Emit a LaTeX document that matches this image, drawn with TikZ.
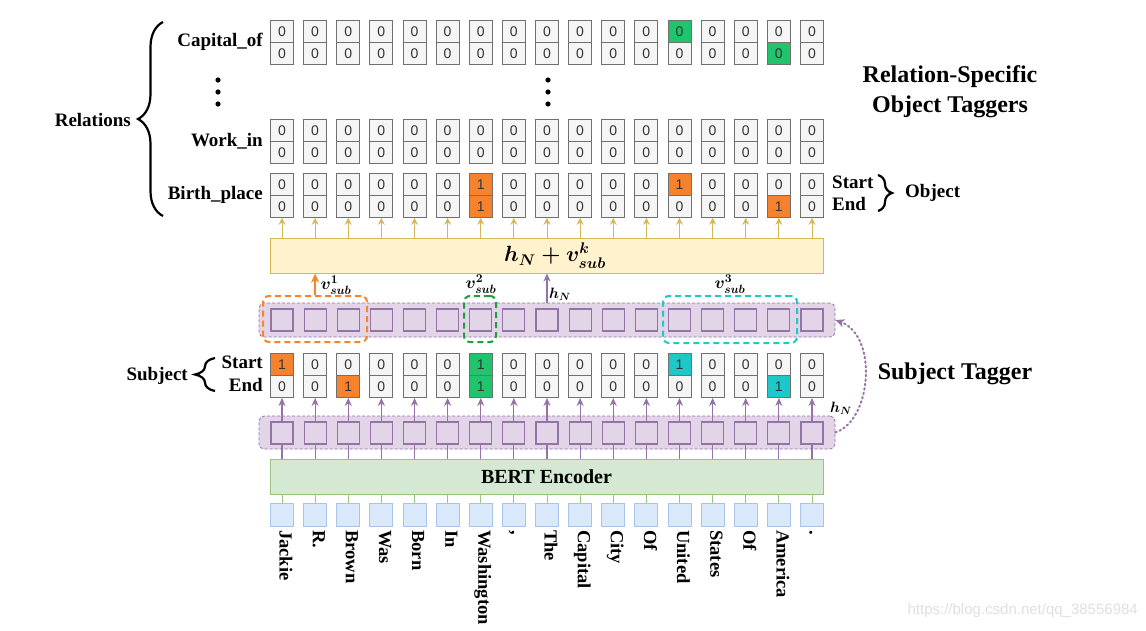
\RequirePackage{fix-cm}
\documentclass[tikz,border=0pt]{standalone}
\usepackage{amsmath}
\usepackage{fontspec}
\setmainfont{Liberation Serif}
\newfontfamily\digfont{Liberation Sans}
\usetikzlibrary{arrows.meta,decorations.pathreplacing}
\definecolor{cellfill}{HTML}{F5F5F5}
\definecolor{cellbd}{HTML}{707070}
\definecolor{digc}{HTML}{333333}
\definecolor{ocell}{HTML}{F6822E}
\definecolor{gcell}{HTML}{20C46C}
\definecolor{ccell}{HTML}{1CC8C8}
\definecolor{purpF}{HTML}{E1D5E7}
\definecolor{purpS}{HTML}{9673A6}
\definecolor{yelF}{HTML}{FFF2CC}
\definecolor{yelS}{HTML}{D6B656}
\definecolor{bertF}{HTML}{D5E8D4}
\definecolor{bertS}{HTML}{97C47E}
\definecolor{bluF}{HTML}{DAE8FC}
\definecolor{bluS}{HTML}{A9C4EB}
\definecolor{odash}{HTML}{F8832A}
\definecolor{gdash}{HTML}{1E9E3E}
\definecolor{cdash}{HTML}{22C7C7}
\newcommand\setcell[4]{\expandafter\def\csname cf-#1-#2\endcsname{#3}\expandafter\def\csname cd-#1-#2\endcsname{#4}}
\newcommand\getcell[2]{\ifcsname cf-#1-#2\endcsname\edef\cfill{\csname cf-#1-#2\endcsname}\edef\cdig{\csname cd-#1-#2\endcsname}\else\def\cfill{cellfill}\def\cdig{0}\fi}
\setcell{capt}{12}{gcell}{0}
\setcell{capb}{15}{gcell}{0}
\setcell{birt}{6}{ocell}{1}
\setcell{birb}{6}{ocell}{1}
\setcell{birt}{12}{ocell}{1}
\setcell{birb}{15}{ocell}{1}
\setcell{subt}{0}{ocell}{1}
\setcell{subb}{2}{ocell}{1}
\setcell{subt}{6}{gcell}{1}
\setcell{subb}{6}{gcell}{1}
\setcell{subt}{12}{ccell}{1}
\setcell{subb}{15}{ccell}{1}
\newcommand\tagrow[2]{\foreach \i in {0,...,16}{%
  \pgfmathsetmacro\cx{282+33.125*\i}%
  \getcell{#1t}{\i}%
  \node[cell,fill=\cfill,anchor=north] (#1t\i) at (\cx,#2) {\cdig};%
  \getcell{#1b}{\i}%
  \node[cell,fill=\cfill,anchor=north] (#1b\i) at (\cx,#2+22) {\cdig};%
}}
\begin{document}
\begin{tikzpicture}[x=1pt,y=-1pt,
  cell/.style={draw=cellbd,minimum width=23pt,minimum height=22pt,inner sep=0pt,line width=0.9pt,text=digc,font=\digfont\fontsize{14}{16}\selectfont},
  prow/.style={draw=purpS,fill=purpF,rounded corners=5pt,line width=0.8pt,dash pattern=on 3pt off 2pt,minimum width=576pt,minimum height=34pt,inner sep=0pt},
  hsq/.style={draw=purpS,fill=purpF,minimum size=22pt,inner sep=0pt,line width=1.1pt},
  grp/.style={rounded corners=6pt,line width=2pt,dash pattern=on 6pt off 4pt,minimum height=46pt,inner sep=0pt},
  lbl/.style={font=\fontsize{19}{22}\selectfont\bfseries,inner sep=0pt},
  big/.style={font=\fontsize{24}{30}\selectfont\bfseries,inner sep=0pt,align=center},
  wrd/.style={font=\fontsize{18.5}{20}\selectfont\bfseries,inner sep=0pt,rotate=-90,anchor=mid west},
  parr/.style={draw=purpS,line width=1.2pt,-{Stealth[length=8pt,width=7pt,inset=2.5pt]}},
  pline/.style={draw=purpS,line width=1.2pt},
  garr/.style={draw=yelS,line width=1pt,-{Stealth[length=7pt,width=7pt,inset=2.5pt]}},
  brc/.style={draw=black,line width=2.2pt,decorate}]
\useasboundingbox (0,0) rectangle (1146,630);
\fill[white] (0,0) rectangle (1146,630);
% object taggers
\tagrow{cap}{20}
\tagrow{wor}{119}
\tagrow{bir}{173}
\tagrow{sub}{353}
\foreach \y in {80,92,104}{\fill (218,\y) circle (2.6pt); \fill (548,\y) circle (2.6pt);}
% labels
\node[lbl,anchor=east] (lcap) at (263,42) {Capital\_of};
\node[lbl,anchor=east] (lwor) at (263,141) {Work\_in};
\node[lbl,anchor=east] (lbir) at (263,195) {Birth\_place};
\node[lbl,anchor=east] (lrel) at (131,120) {Relations};
\draw[brc,decoration={brace,amplitude=25pt}] (163,216) -- (163,22);
\node[lbl,anchor=west] (ost) at (832,182) {Start};
\node[lbl,anchor=west] (oen) at (832,204) {End};
\draw[brc,decoration={brace,amplitude=14pt}] (878,175) -- (878,211);
\node[lbl,anchor=west] (lobj) at (905,193) {Object};
\node[big] (title) at (950,92) {Relation-Specific\\Object Taggers};
\node[lbl,anchor=east] (sst) at (263,362) {Start};
\node[lbl,anchor=east] (sen) at (263,385) {End};
\draw[brc,decoration={brace,amplitude=20pt}] (215,391) -- (215,358);
\node[lbl,anchor=east] (lsub) at (188,376) {Subject};
\node[big] (stag) at (955,374) {Subject Tagger};
% yellow box
\node[draw=yelS,fill=yelF,line width=1pt,minimum width=553pt,minimum height=35pt,inner sep=0pt] (yel) at (546.5,255.5) {};
\node[inner sep=0pt] (ftext) at (555,256) {\fontsize{22}{26}\selectfont$\boldsymbol{h_N+v^k_{sub}}$};
% hidden rows
\node[prow] (urow) at (547,320) {};
\node[prow,minimum height=33pt] (lrow) at (547,432.5) {};
\foreach \i in {0,...,16}{%
  \pgfmathsetmacro\cx{282+33.125*\i}%
  \node[hsq] (hu\i) at (\cx,320) {};
  \node[hsq] (hl\i) at (\cx,433) {};
}
% groups
\node[grp,draw=odash,minimum width=104pt] (g1) at (315,319) {};
\node[grp,draw=gdash,minimum width=32pt] (g2) at (480,319) {};
\node[grp,draw=cdash,minimum width=134pt,minimum height=47pt] (g3) at (730,319.5) {};
\node[inner sep=0pt] (v1) at (336,285) {\fontsize{17}{19}\selectfont$\boldsymbol{v^1_{sub}}$};
\node[inner sep=0pt] (v2) at (481,284) {\fontsize{17}{19}\selectfont$\boldsymbol{v^2_{sub}}$};
\node[inner sep=0pt] (v3) at (730,284) {\fontsize{17}{19}\selectfont$\boldsymbol{v^3_{sub}}$};
\node[inner sep=0pt] (hn1) at (560,294) {\fontsize{15}{17}\selectfont$\boldsymbol{h_N}$};
\node[inner sep=0pt] (hn2) at (841,408) {\fontsize{15}{17}\selectfont$\boldsymbol{h_N}$};
\draw[draw=odash,line width=2pt,-{Stealth[length=9pt,width=8pt,inset=2.5pt]}] (g1.north -| hu1) -- (yel.south -| hu1);
\draw[parr] (urow.north -| hu8) -- (yel.south -| hu8);
\draw[draw=purpS,line width=2pt,dash pattern=on 1.5pt off 3pt,line cap=round,-{Stealth[length=9pt,width=8pt,inset=2.5pt]}] (lrow.east) .. controls (872,420) and (878,336) .. (urow.east);
% BERT
\node[draw=bertS,fill=bertF,line width=1pt,minimum width=553pt,minimum height=35pt,inner sep=0pt,font=\fontsize{20}{24}\selectfont\bfseries] (bert) at (546.5,476.5) {BERT Encoder};
\foreach \i/\w in {0/Jackie,1/R.,2/Brown,3/Was,4/Born,5/In,6/Washington,7/{,},8/The,9/Capital,10/City,11/Of,12/United,13/States,14/Of,15/America,16/.}{%
  \pgfmathsetmacro\cx{282+33.125*\i}%
  \node[draw=bluS,fill=bluF,minimum size=23pt,inner sep=0pt,line width=1pt] (w\i) at (\cx,514.5) {};
  \node[wrd] (wl\i) at (\cx,530) {\w};
  \draw[draw=bertS,line width=1pt] (w\i.north) -- (bert.south -| w\i.north);
  \draw[pline] (bert.north -| hl\i.south) -- (hl\i.south);
  \draw[parr] (hl\i.north) -- (subb\i.south);
  \draw[garr] (yel.north -| birb\i.south) -- (birb\i.south);
}
\node[anchor=east,inner sep=0pt,text=black!12,font=\digfont\fontsize{15}{18}\selectfont] (wm) at (1138,611) {https://blog.csdn.net/qq\_38556984};
\end{tikzpicture}
\end{document}
